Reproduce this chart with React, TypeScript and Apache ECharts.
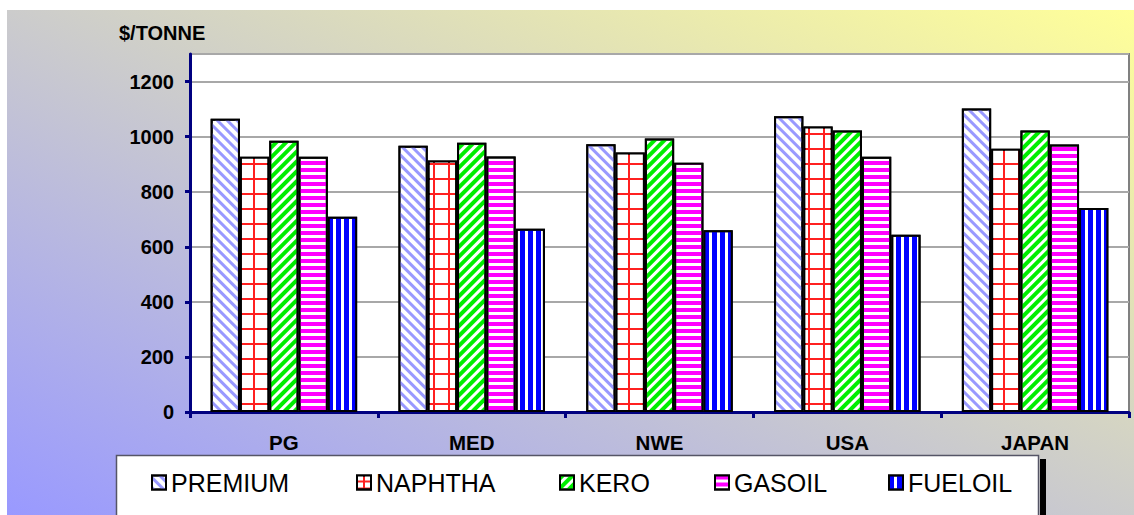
import React, { useEffect, useRef } from 'react';
import * as echarts from 'echarts';

const categories = ['PG', 'MED', 'NWE', 'USA', 'JAPAN'];
const seriesNames = ['PREMIUM', 'NAPHTHA', 'KERO', 'GASOIL', 'FUELOIL'];
const premium = [1065, 967, 972, 1074, 1102];
const naphtha = [927, 913, 942, 1037, 956];
const kero = [985, 978, 993, 1022, 1022];
const gasoil = [927, 928, 905, 927, 971];
const fueloil = [709, 665, 660, 644, 741];
const yAxisTitle = '$/TONNE';

const FONT = '"Liberation Sans", Arial, sans-serif';
const NAVY = '#000080';

const legendLeft = [151, 356, 559, 714, 888];

export default function App() {
  const ref = useRef<HTMLDivElement>(null);
  useEffect(() => {
    document.body.style.margin = '0';
    if (!ref.current) return;
    const chart = echarts.init(ref.current, undefined, { renderer: 'svg' });

    const styles: any[] = [
      {
        color: '#ffffff',
        decal: { symbol: 'rect', symbolSize: 1, color: '#9999ff', dashArrayX: [1, 0], dashArrayY: [3, 3.5], rotation: Math.PI / 4 },
      },
      {
        color: '#ff2020',
        decal: { symbol: 'rect', symbolSize: 1, color: '#ffffff', dashArrayX: [13, 2], dashArrayY: [13, 2], rotation: 0 },
      },
      {
        color: '#ffffff',
        decal: { symbol: 'rect', symbolSize: 1, color: '#00ee00', dashArrayX: [1, 0], dashArrayY: [3.5, 3], rotation: -Math.PI / 4 },
      },
      {
        color: '#ffffff',
        decal: { symbol: 'rect', symbolSize: 1, color: '#ff00ff', dashArrayX: [1, 0], dashArrayY: [3.5, 2.5], rotation: 0 },
      },
      {
        color: '#ffffff',
        decal: { symbol: 'rect', symbolSize: 1, color: '#0000ff', dashArrayX: [5, 2.3], dashArrayY: [1, 0], rotation: 0 },
      },
    ];
    const legendDecal: any[] = [
      null,
      { symbol: 'rect', symbolSize: 1, color: '#ffffff', dashArrayX: [6, 2], dashArrayY: [5, 2], rotation: 0 },
      null,
      null,
      null,
    ];
    const values = [premium, naphtha, kero, gasoil, fueloil];

    const option: any = {
      animation: false,
      graphic: [
        {
          type: 'rect',
          z: -100,
          shape: { x: 7, y: 10, width: 1127, height: 505 },
          style: {
            fill: new echarts.graphic.LinearGradient(0, 1, 1, 0, [
              { offset: 0, color: '#9999ff' },
              { offset: 1, color: '#ffff99' },
            ]),
          },
        },
        {
          type: 'rect',
          z: 1,
          shape: { x: 1040, y: 459, width: 6, height: 80 },
          style: { fill: '#000000' },
        },
        {
          type: 'rect',
          z: 1,
          shape: { x: 116.5, y: 455.5, width: 922, height: 80 },
          style: { fill: '#ffffff', stroke: '#555566', lineWidth: 1.5 },
        },
        {
          type: 'text',
          z: 5,
          x: 119,
          y: 33,
          style: {
            text: yAxisTitle,
            font: `bold 20px ${FONT}`,
            fill: '#000000',
            verticalAlign: 'middle',
          },
        },
      ],
      legend: seriesNames.map((name, i) => ({
        data: [legendDecal[i] ? { name, itemStyle: { decal: legendDecal[i] } } : name],
        left: legendLeft[i],
        top: 470,
        padding: 0,
        itemWidth: 14,
        itemHeight: 14,
        icon: 'rect',
        textStyle: { fontFamily: FONT, fontSize: 25, color: '#000000' },
        z: 5,
      })),
      grid: {
        left: 190,
        right: 5,
        top: 54,
        bottom: 103,
        show: true,
        backgroundColor: '#ffffff',
        borderColor: '#808080',
        borderWidth: 2,
      },
      xAxis: {
        type: 'category',
        data: categories,
        axisLine: { show: true, lineStyle: { color: NAVY, width: 3 } },
        axisTick: { show: true, length: 6, lineStyle: { color: NAVY, width: 3 } },
        axisLabel: { fontFamily: FONT, fontWeight: 'bold', fontSize: 20.5, color: '#000000', margin: 20 },
      },
      yAxis: {
        type: 'value',
        min: 0,
        max: 1300,
        interval: 200,
        axisLine: { show: true, lineStyle: { color: NAVY, width: 3 } },
        axisTick: { show: true, length: 5, lineStyle: { color: NAVY, width: 3 } },
        axisLabel: {
          fontFamily: FONT,
          fontWeight: 'bold',
          fontSize: 20,
          color: '#000000',
          margin: 16,
          showMaxLabel: false,
          formatter: (v: number) => String(v),
        },
        splitLine: { show: true, lineStyle: { color: '#a8a8a8', width: 2 } },
      },
      series: seriesNames.map((name, i) => ({
        name,
        type: 'bar',
        data: values[i],
        barGap: '0%',
        barCategoryGap: '22%',
        itemStyle: { ...styles[i], borderColor: '#000000', borderWidth: 2 },
      })),
    };
    chart.setOption(option);
    return () => chart.dispose();
  }, []);
  return <div ref={ref} style={{ width: 1134, height: 515 }} />;
}
